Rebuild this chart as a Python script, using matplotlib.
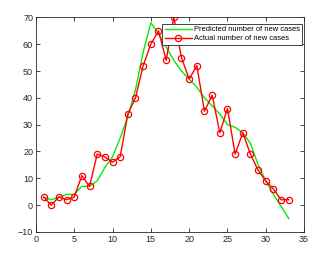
import numpy as np
import matplotlib.pyplot as plt

plt.rcParams['font.family'] = ['Liberation Sans', 'DejaVu Sans']

# day index
days = list(range(1, 34))
# actual number of new cases
actual = [3, 0, 3, 2, 3, 11, 7, 19, 18, 16, 18, 34, 40, 52, 60, 65, 54, 70, 55, 47,
          52, 35, 41, 27, 36, 19, 27, 19, 13, 9, 6, 2, 2]
# predicted number of new cases
predicted = [3, 2, 3, 4, 4, 7, 7, 9, 14, 18, 25, 33, 43, 57, 68, 64, 59, 54, 50, 47,
             44, 40, 37, 34, 30, 29, 27, 23, 15, 9, 4, -0.5, -5]

fig = plt.figure(figsize=(3.32, 2.6), dpi=100)
ax = fig.add_axes([0.108, 0.108, 0.808, 0.825])

ax.plot(days, predicted, color='#00ee00', lw=1, label='Predicted number of new cases')
ax.plot(days, actual, color='red', lw=1, marker='o', markersize=4.5,
        markerfacecolor='none', markeredgewidth=0.9, label='Actual number of new cases')

ax.set_xlim(0, 35)
ax.set_ylim(-10, 70)
ax.set_xticks(range(0, 36, 5))
ax.set_yticks(range(-10, 71, 10))
ax.tick_params(direction='in', top=True, right=True, labelsize=6.5, length=3, width=0.6,
               colors='#262626', pad=2)
for s in ax.spines.values():
    s.set_linewidth(0.6)
    s.set_color('#262626')

leg = ax.legend(loc='upper right', fontsize=5.4, fancybox=False, framealpha=1,
                edgecolor='#262626', borderpad=0.3, labelspacing=0.25, handlelength=3.6,
                handletextpad=0.3, borderaxespad=0, bbox_to_anchor=(0.993, 0.97))
leg.get_frame().set_linewidth(0.6)

fig.savefig('out.png', dpi=100)
